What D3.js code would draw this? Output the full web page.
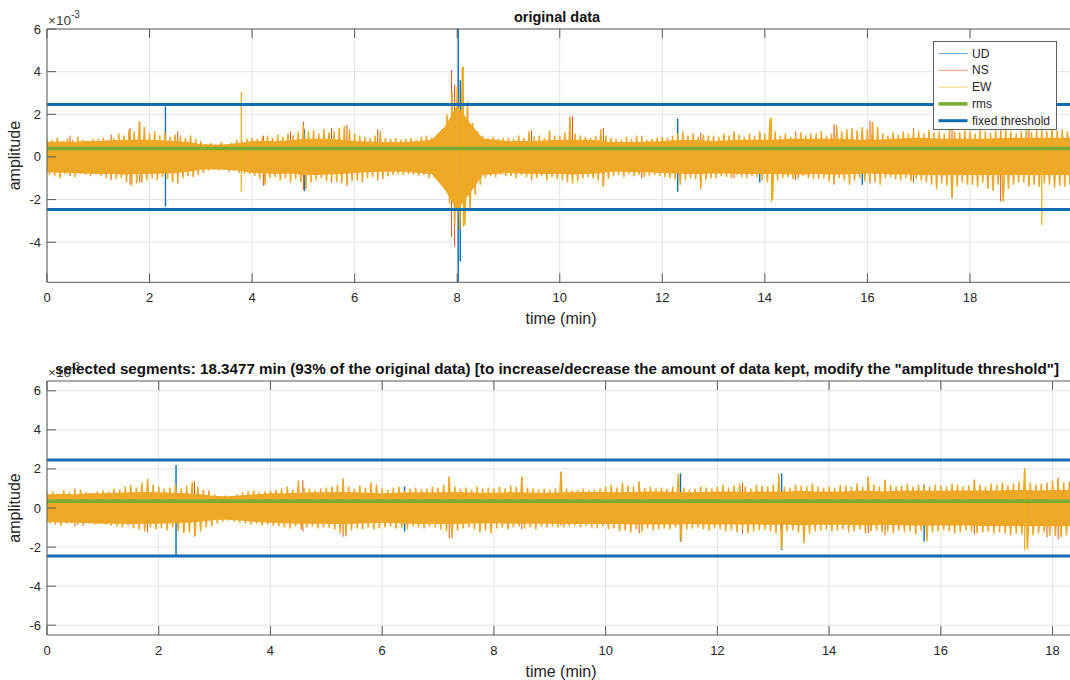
<!DOCTYPE html>
<html>
<head>
<meta charset="utf-8">
<script src="https://cdn.jsdelivr.net/npm/d3@7"></script>
<style>
  html, body { margin: 0; padding: 0; background: #fff; }
  svg text { font-family: "Liberation Sans", Arial, Helvetica, sans-serif; fill: #262626; }
</style>
</head>
<body>
<svg id="chart" width="1070" height="680"></svg>
<script>
// ---- data (amplitudes in units of 1e-3) ----
const components = ["UD", "NS", "EW"];
const legendLabels = ["UD", "NS", "EW", "rms", "fixed threshold"];
const xTicks = [0, 2, 4, 6, 8, 10, 12, 14, 16, 18];
const yTicksTop = [-4, -2, 0, 2, 4, 6];
const yTicksBottom = [-6, -4, -2, 0, 2, 4, 6];

const topDuration = 19.99;          // minutes of original record
const keptDuration = 18.3477;       // minutes kept after selection
const envelopeStep = 0.1;           // minutes per envelope bin
const coreStep = 0.25;              // minutes per core bin
const rmsTop = 0.40;
const rmsBottom = 0.34;
const fixedThreshold = 2.46;

// per-bin maximum / minimum of the EW trace, original record
const topHi = [
  0.85,0.8,0.9,0.75,0.85,0.8,0.95,0.8,0.75,0.85,
  0.85,0.9,0.8,0.9,1.1,1.0,1.3,1.2,1.65,1.4,
  1.1,1.2,1.0,1.15,0.95,1.05,1.0,0.9,1.0,0.85,
  0.75,0.6,0.65,0.55,0.7,0.6,0.65,0.8,0.75,0.85,
  0.9,0.85,0.95,1.0,0.9,1.05,0.95,1.1,1.0,1.2,
  1.5,1.2,1.25,1.1,1.3,1.15,1.2,1.35,1.45,1.3,
  1.1,1.0,0.95,0.9,1.0,1.2,0.9,0.85,0.9,0.8,
  0.85,0.9,0.8,0.95,1.0,0.9,1.0,1.3,2.0,3.0,
  3.3,4.2,2.6,1.6,1.2,1.0,0.9,0.95,0.85,0.9,
  0.9,0.85,1.0,0.9,1.2,0.95,1.0,0.9,1.25,1.0,
  1.0,1.15,1.9,1.1,1.0,0.95,0.9,1.0,1.3,1.0,
  0.9,0.85,0.8,0.95,0.85,1.0,0.9,0.8,0.85,0.9,
  0.95,0.9,1.0,1.1,1.2,1.0,1.1,0.95,1.05,1.0,
  1.0,0.95,1.1,1.0,1.15,1.05,0.95,1.1,1.0,1.2,
  1.1,1.8,1.2,1.0,1.1,0.95,1.05,1.15,1.0,1.1,
  1.1,1.2,1.0,1.1,1.5,1.2,1.3,1.35,1.25,1.4,
  1.3,1.65,1.4,1.1,1.0,1.15,1.05,1.2,1.1,1.25,
  1.2,1.1,1.25,1.15,1.2,1.1,1.3,1.2,1.15,1.25,
  1.2,1.1,1.3,1.2,1.15,1.25,1.2,1.3,1.2,1.1,
  1.2,1.3,1.15,1.25,1.3,1.2,1.35,1.25,1.3,1.2
];
const topLo = [
  -0.85,-0.9,-1.0,-0.8,-0.85,-0.95,-0.8,-0.85,-0.9,-0.8,
  -0.9,-1.0,-0.95,-1.05,-1.0,-1.2,-1.35,-1.25,-1.2,-1.1,
  -1.0,-1.1,-0.95,-1.05,-1.2,-1.15,-1.0,-0.9,-0.95,-0.85,
  -0.75,-0.65,-0.6,-0.65,-0.6,-0.7,-0.65,-0.75,-0.8,-0.8,
  -0.9,-1.05,-1.3,-1.0,-0.95,-1.1,-1.0,-1.15,-1.05,-1.2,
  -1.5,-1.2,-1.1,-1.0,-1.15,-1.05,-1.2,-1.25,-1.3,-1.15,
  -1.1,-1.2,-1.0,-0.95,-1.0,-1.05,-0.9,-0.85,-0.8,-0.85,
  -0.8,-0.85,-0.9,-0.85,-1.0,-0.95,-1.1,-1.5,-2.2,-3.2,
  -3.4,-3.2,-2.5,-1.8,-1.3,-1.0,-0.9,-0.95,-0.85,-0.9,
  -0.9,-1.0,-0.85,-0.95,-1.05,-1.0,-0.9,-1.1,-0.95,-1.05,
  -1.1,-1.2,-1.25,-1.15,-1.0,-0.95,-1.0,-1.1,-1.4,-1.05,
  -0.9,-0.85,-0.95,-0.8,-0.9,-0.85,-0.95,-0.9,-0.85,-0.9,
  -0.95,-1.0,-1.05,-1.3,-1.1,-1.0,-1.05,-1.45,-1.1,-1.0,
  -1.0,-0.9,-0.95,-1.0,-0.85,-0.95,-1.0,-0.9,-0.95,-1.1,
  -1.2,-2.0,-1.1,-1.0,-0.95,-1.05,-1.0,-0.9,-1.0,-1.05,
  -1.05,-1.0,-1.15,-1.2,-1.0,-1.1,-1.3,-1.1,-1.0,-1.15,
  -1.1,-1.2,-1.3,-1.0,-0.95,-1.05,-1.1,-1.0,-1.15,-1.05,
  -1.1,-1.2,-1.3,-1.5,-1.25,-1.35,-1.9,-1.4,-1.2,-1.3,
  -1.3,-1.4,-1.2,-1.5,-1.6,-1.3,-2.1,-1.5,-1.3,-1.2,
  -1.2,-1.35,-1.3,-1.4,-1.25,-1.3,-1.45,-1.35,-1.4,-1.3
];
// dense central band of the traces, original record (0.25 min bins)
const topCoreHi = [
  0.7,0.72,0.7,0.75, 0.75,0.78,0.8,0.82, 0.8,0.78,0.75,0.7, 0.6,0.58,0.6,0.65, 0.75,0.75,0.75,0.78,
  0.85,0.85,0.85,0.8, 0.75,0.72,0.7,0.7, 0.7,0.75,0.8,1.4, 2.4,1.6,0.85,0.8, 0.75,0.75,0.75,0.78,
  0.8,0.8,0.8,0.78, 0.7,0.7,0.7,0.72, 0.75,0.78,0.8,0.78, 0.75,0.78,0.8,0.8, 0.8,0.82,0.85,0.85,
  0.85,0.85,0.85,0.82, 0.8,0.82,0.85,0.88, 0.9,0.88,0.85,0.85, 0.85,0.85,0.88,0.9, 0.9,0.9,0.9,0.9, 0.9
];
const topCoreLo = [
  -0.72,-0.74,-0.75,-0.78, -0.8,-0.8,-0.82,-0.8, -0.8,-0.78,-0.75,-0.7, -0.6,-0.58,-0.6,-0.65, -0.75,-0.78,-0.8,-0.78,
  -0.85,-0.85,-0.82,-0.8, -0.75,-0.72,-0.7,-0.7, -0.7,-0.75,-0.8,-1.5, -2.5,-1.7,-0.85,-0.8, -0.75,-0.78,-0.8,-0.8,
  -0.8,-0.82,-0.8,-0.78, -0.7,-0.7,-0.72,-0.72, -0.75,-0.78,-0.8,-0.8, -0.78,-0.78,-0.8,-0.8, -0.8,-0.8,-0.82,-0.82,
  -0.8,-0.82,-0.82,-0.8, -0.78,-0.8,-0.82,-0.82, -0.85,-0.85,-0.85,-0.85, -0.85,-0.85,-0.85,-0.85, -0.85,-0.85,-0.85,-0.85, -0.85
];

// per-bin maximum / minimum of the EW trace, selected segments
const botHi = [
  0.8,0.85,0.75,0.9,0.8,0.85,0.95,0.8,0.75,0.85,
  0.9,0.85,1.0,0.95,1.1,1.2,1.05,1.3,1.5,1.2,
  1.1,1.0,1.05,1.2,1.0,1.15,1.35,1.1,0.95,0.9,
  0.7,0.6,0.65,0.55,0.7,0.8,0.85,0.9,0.8,0.85,
  0.9,0.95,1.0,1.1,0.95,1.4,1.05,1.0,0.9,1.0,
  1.05,1.1,1.2,1.5,1.1,1.0,1.15,1.05,1.3,1.2,
  1.0,0.95,1.05,1.1,0.9,1.0,1.05,0.95,1.0,1.1,
  1.05,1.2,1.6,1.1,1.0,1.05,0.95,1.1,1.0,1.05,
  1.0,1.1,1.0,1.15,1.1,1.6,1.05,1.0,0.95,1.0,
  0.95,1.0,1.85,1.0,0.9,0.95,1.0,0.9,0.95,1.0,
  1.1,1.2,1.05,1.3,1.15,1.1,1.35,1.05,1.1,1.0,
  1.05,1.0,1.1,1.75,1.05,0.95,1.0,1.1,1.05,1.0,
  1.1,1.2,1.05,1.15,1.25,1.1,1.0,1.2,1.15,1.1,
  1.2,1.75,1.1,1.05,1.2,1.15,1.1,1.25,1.1,1.05,
  1.1,1.05,1.2,1.15,1.1,1.25,1.1,1.6,1.2,1.1,
  1.45,1.2,1.1,1.15,1.25,1.1,1.2,1.15,1.1,1.2,
  1.15,1.1,1.25,1.2,1.1,1.15,1.45,1.2,1.1,1.25,
  1.2,1.3,1.15,1.25,1.35,2.0,1.3,1.2,1.25,1.15,
  1.4,1.5,1.3,1.35
];
const botLo = [
  -0.8,-0.85,-0.9,-0.8,-0.75,-0.85,-0.9,-0.8,-0.85,-0.8,
  -0.85,-0.9,-0.95,-1.0,-0.9,-1.05,-1.1,-1.2,-1.0,-1.1,
  -1.05,-1.15,-1.0,-1.2,-1.3,-1.25,-1.45,-1.2,-1.0,-0.95,
  -0.8,-0.7,-0.65,-0.7,-0.75,-0.8,-0.85,-0.8,-0.9,-0.85,
  -0.9,-0.95,-1.0,-1.05,-0.95,-1.1,-1.0,-0.95,-1.05,-1.0,
  -1.0,-1.1,-1.3,-1.45,-1.15,-1.05,-1.1,-1.0,-1.1,-1.05,
  -1.0,-0.95,-1.05,-1.0,-1.1,-0.95,-1.0,-1.05,-0.95,-1.0,
  -1.1,-1.2,-1.55,-1.15,-1.05,-1.0,-1.1,-1.25,-1.15,-1.3,
  -1.05,-1.0,-1.1,-1.0,-0.95,-1.05,-1.0,-1.1,-0.95,-1.0,
  -0.95,-1.0,-1.0,-0.95,-0.9,-1.0,-0.95,-1.0,-1.05,-0.95,
  -1.1,-1.05,-1.2,-1.15,-1.25,-1.1,-1.2,-1.05,-1.15,-1.1,
  -1.05,-1.1,-1.0,-1.7,-1.1,-1.05,-1.0,-1.1,-1.15,-1.05,
  -1.1,-1.2,-1.15,-1.25,-1.1,-1.3,-1.2,-1.15,-1.1,-1.2,
  -1.3,-2.1,-1.2,-1.15,-1.25,-1.8,-1.3,-1.2,-1.15,-1.1,
  -1.2,-1.15,-1.1,-1.25,-1.2,-1.1,-1.3,-1.2,-1.15,-1.25,
  -1.2,-1.3,-1.15,-1.25,-1.2,-1.35,-1.2,-1.7,-1.25,-1.2,
  -1.15,-1.2,-1.3,-1.25,-1.15,-1.2,-1.3,-1.25,-1.2,-1.3,
  -1.25,-1.3,-1.4,-1.3,-1.35,-2.1,-1.4,-1.3,-1.25,-1.4,
  -1.45,-1.5,-1.4,-1.35
];
// dense central band of the traces, selected segments (0.25 min bins)
const botCoreHi = [
  0.7,0.72,0.7,0.75, 0.75,0.78,0.8,0.82, 0.8,0.78,0.75,0.7, 0.62,0.6,0.65,0.7, 0.75,0.75,0.78,0.8,
  0.8,0.82,0.8,0.78, 0.75,0.78,0.8,0.8, 0.8,0.82,0.8,0.78, 0.78,0.8,0.8,0.78, 0.78,0.8,0.82,0.82,
  0.82,0.8,0.82,0.85, 0.85,0.82,0.8,0.82, 0.85,0.85,0.82,0.85, 0.85,0.85,0.88,0.85, 0.85,0.85,0.88,0.88,
  0.85,0.88,0.9,0.88, 0.88,0.9,0.9,0.9, 0.9,0.92,0.92,0.9, 0.92,0.92,0.92
];
const botCoreLo = [
  -0.72,-0.74,-0.75,-0.78, -0.8,-0.8,-0.82,-0.8, -0.8,-0.78,-0.75,-0.7, -0.62,-0.6,-0.65,-0.72, -0.75,-0.78,-0.8,-0.8,
  -0.82,-0.82,-0.8,-0.78, -0.75,-0.78,-0.8,-0.82, -0.82,-0.82,-0.8,-0.78, -0.78,-0.8,-0.8,-0.8, -0.8,-0.82,-0.82,-0.82,
  -0.82,-0.82,-0.84,-0.85, -0.85,-0.84,-0.82,-0.84, -0.85,-0.85,-0.84,-0.85, -0.86,-0.86,-0.88,-0.86, -0.86,-0.86,-0.88,-0.88,
  -0.86,-0.88,-0.9,-0.9, -0.9,-0.9,-0.9,-0.92, -0.92,-0.92,-0.94,-0.92, -0.94,-0.94,-0.94
];

// isolated peaks that rise above the band: [time, max, min]
const topPeaksUD = [[2.31, 2.36, -2.33], [5.02, 1.3, -1.6], [8.02, 6.0, -5.88], [8.06, 3.6, -4.9],
  [12.3, 1.8, -1.63], [13.9, 1.1, -1.2], [15.9, 1.2, -1.3]];
const topPeaksNS = [[0.45, 1.0, -0.9], [1.25, 1.05, -1.1], [1.62, 1.35, -1.3], [1.81, 1.66, -1.2], [2.55, 1.2, -1.25],
  [4.22, 1.0, -1.35], [4.75, 1.2, -1.2], [5.0, 1.65, -1.55], [5.55, 1.35, -1.2], [5.85, 1.5, -1.35], [6.45, 1.3, -1.1],
  [7.89, 4.08, -3.74], [7.95, 3.4, -4.2], [9.45, 1.25, -1.1], [10.25, 1.9, -1.0], [10.85, 1.35, -1.4], [11.6, 1.0, -1.0],
  [12.75, 1.15, -1.5], [13.4, 1.2, -1.0], [14.6, 1.2, -1.1], [15.35, 1.55, -1.3], [16.05, 1.7, -1.25], [16.9, 1.35, -1.2],
  [17.65, 1.3, -1.95], [18.6, 1.25, -2.1], [19.15, 1.4, -1.4]];
const topPeaksEW = [[3.79, 3.05, -1.63], [8.12, 4.24, -3.27], [14.13, 1.85, -2.1], [19.4, 1.0, -3.2]];
const botPeaksUD = [[2.31, 2.2, -2.4], [6.4, 1.1, -1.2], [11.34, 1.77, -1.72], [13.15, 1.77, -2.15], [15.7, 1.2, -1.72]];
const botPeaksNS = [[0.5, 1.0, -0.95], [1.8, 1.5, -1.25], [2.64, 1.35, -1.47], [4.58, 1.43, -1.2], [5.3, 1.5, -1.47],
  [7.2, 1.6, -1.55], [8.5, 1.6, -1.1], [9.2, 1.86, -0.9], [10.6, 1.35, -1.3], [12.45, 1.3, -1.3], [14.7, 1.6, -1.3],
  [15.0, 1.45, -1.4], [16.6, 1.45, -1.35], [17.9, 1.3, -1.5], [18.1, 1.55, -1.6]];
const botPeaksEW = [[17.5, 2.03, -2.15]];

// ---- styling ----
const colors = { UD: "#0072BD", NS: "#D95319", EW: "#EDB120", rms: "#77AC30", thr: "#0F6DB4" };

const svg = d3.select("#chart");

function drawPanel(cfg) {
  const { x, y, yTicks, title, titleWidth, hi, lo, coreHi, coreLo, peaks, rms, clipId } = cfg;
  const [x0, x1] = x.range();
  const [yb, yt] = y.range();
  const g = svg.append("g");

  g.append("clipPath").attr("id", clipId)
    .append("rect").attr("x", x0).attr("y", yt).attr("width", x1 - x0).attr("height", yb - yt);

  // grid
  const grid = g.append("g").attr("stroke", "#e3e3e3").attr("stroke-width", 1);
  xTicks.forEach(t => grid.append("line").attr("x1", x(t)).attr("x2", x(t)).attr("y1", yt).attr("y2", yb));
  yTicks.forEach(t => grid.append("line").attr("x1", x0).attr("x2", x1).attr("y1", y(t)).attr("y2", y(t)));

  const plot = g.append("g").attr("clip-path", `url(#${clipId})`);

  const stick = (sel, list, color, w) => sel.selectAll(null).data(list).join("line")
    .attr("x1", d => x(d[0])).attr("x2", d => x(d[0]))
    .attr("y1", d => y(d[1])).attr("y2", d => y(d[2]))
    .attr("stroke", color).attr("stroke-width", w);

  stick(plot.append("g"), peaks.UD, colors.UD, 1.4);
  stick(plot.append("g"), peaks.NS, colors.NS, 1.0);

  // EW trace: dense band plus min/max excursions per bin
  const core = coreHi.map((h, i) => [i * coreStep, h, coreLo[i]]);
  plot.append("path")
    .attr("d", d3.area().x(d => x(d[0])).y0(d => y(d[2])).y1(d => y(d[1]))(core))
    .attr("fill", "#EFA826");
  const zig = [];
  hi.forEach((h, i) => { zig.push([i * envelopeStep, h]); zig.push([i * envelopeStep + envelopeStep / 2, lo[i]]); });
  plot.append("path")
    .attr("d", d3.line().x(d => x(d[0])).y(d => y(d[1]))(zig))
    .attr("fill", "none").attr("stroke", "#EDA928").attr("stroke-width", 1.5);
  stick(plot.append("g"), peaks.EW, colors.EW, 1.3);

  // rms and fixed threshold
  plot.append("line").attr("x1", x0).attr("x2", x1).attr("y1", y(rms)).attr("y2", y(rms))
    .attr("stroke", colors.rms).attr("stroke-width", 3.5);
  [fixedThreshold, -fixedThreshold].forEach(v =>
    plot.append("line").attr("x1", x0).attr("x2", x1).attr("y1", y(v)).attr("y2", y(v))
      .attr("stroke", colors.thr).attr("stroke-width", 3));

  // axes box and inward ticks
  const ax = g.append("g").attr("stroke", "#5a5a5a").attr("stroke-width", 1).attr("fill", "none");
  ax.append("path").attr("d", `M${x1},${yt}H${x0}V${yb}H${x1}`);
  const tl = 9;
  xTicks.forEach(t => {
    ax.append("line").attr("x1", x(t)).attr("x2", x(t)).attr("y1", yb).attr("y2", yb - tl);
    ax.append("line").attr("x1", x(t)).attr("x2", x(t)).attr("y1", yt).attr("y2", yt + tl);
  });
  yTicks.forEach(t => ax.append("line").attr("x1", x0).attr("x2", x0 + tl).attr("y1", y(t)).attr("y2", y(t)));

  // tick labels
  g.append("g").selectAll(null).data(xTicks).join("text")
    .attr("x", d => x(d)).attr("y", yb + 20).attr("text-anchor", "middle")
    .style("font-size", "13px").text(d => d);
  g.append("g").selectAll(null).data(yTicks).join("text")
    .attr("x", x0 - 6).attr("y", d => y(d) + 4.5).attr("text-anchor", "end")
    .style("font-size", "13px").text(d => d);

  // exponent
  const ex = g.append("text").attr("x", x0 + 1).attr("y", yt - 4).style("font-size", "13.5px").style("fill", "#404040");
  ex.append("tspan").text("\u00d710");
  ex.append("tspan").attr("dy", -7).style("font-size", "10px").text("-3");

  // axis labels
  g.append("text").attr("x", 561).attr("y", yb + 42).attr("text-anchor", "middle")
    .style("font-size", "16px").text("time (min)");
  g.append("text").attr("transform", `translate(20,${(yt + yb) / 2}) rotate(-90)`)
    .attr("text-anchor", "middle").style("font-size", "16px").text("amplitude");

  // title
  const tt = g.append("text").attr("x", 557).attr("y", yt - 7).attr("text-anchor", "middle")
    .style("font-size", "14.5px").style("font-weight", "bold").style("fill", "#111").text(title);
  if (titleWidth) tt.attr("textLength", titleWidth).attr("lengthAdjust", "spacingAndGlyphs");
  return g;
}

const xTop = d3.scaleLinear([0, topDuration], [47, 1072]);
const yTop = d3.scaleLinear([-5.88, 6], [282.3, 29]);
const topPanel = drawPanel({
  x: xTop, y: yTop, yTicks: yTicksTop, title: "original data",
  hi: topHi, lo: topLo, coreHi: topCoreHi, coreLo: topCoreLo,
  peaks: { UD: topPeaksUD, NS: topPeaksNS, EW: topPeaksEW }, rms: rmsTop, clipId: "clipTop"
});

const xBot = d3.scaleLinear([0, keptDuration], [47, 1072]);
const yBot = d3.scaleLinear([-6.5, 6.5], [635, 381]);
drawPanel({
  x: xBot, y: yBot, yTicks: yTicksBottom, titleWidth: 1004,
  title: "selected segments: 18.3477 min (93% of the original data) [to increase/decrease the amount of data kept, modify the \"amplitude threshold\"]",
  hi: botHi, lo: botLo, coreHi: botCoreHi, coreLo: botCoreLo,
  peaks: { UD: botPeaksUD, NS: botPeaksNS, EW: botPeaksEW }, rms: rmsBottom, clipId: "clipBot"
});

// legend (top panel)
const lg = topPanel.append("g").attr("transform", "translate(933.5,41.5)");
lg.append("rect").attr("width", 123).attr("height", 88).attr("fill", "#fff").attr("stroke", "#3a3a3a").attr("stroke-width", 0.8);
const legendStyle = [
  { c: colors.UD, w: 0.6 }, { c: colors.NS, w: 0.6 }, { c: colors.EW, w: 0.6 },
  { c: colors.rms, w: 3.5 }, { c: colors.thr, w: 3 }
];
legendLabels.forEach((lab, i) => {
  const yy = 12 + i * 16.8;
  lg.append("line").attr("x1", 5).attr("x2", 34).attr("y1", yy).attr("y2", yy)
    .attr("stroke", legendStyle[i].c).attr("stroke-width", legendStyle[i].w);
  lg.append("text").attr("x", 38.5).attr("y", yy + 4).style("font-size", "12px").text(lab);
});
</script>
</body>
</html>
